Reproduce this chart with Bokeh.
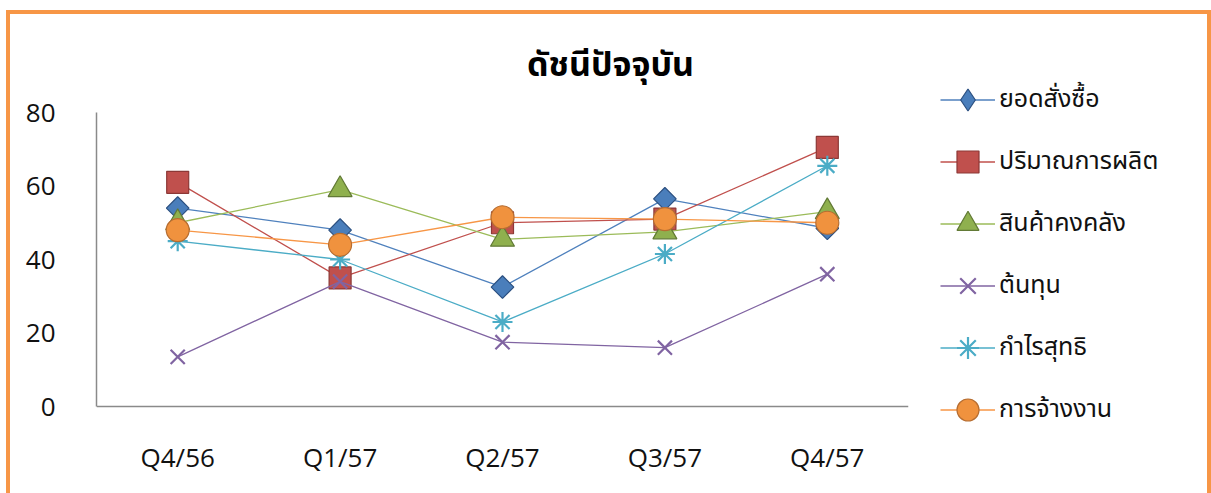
import math
from bokeh.plotting import figure
from bokeh.layouts import row
from bokeh.models import FactorRange, Range1d, Legend, LegendItem, Label, Span, ColumnDataSource
from bokeh.embed import file_html
from bokeh.resources import INLINE

categories = ["Q4/56", "Q1/57", "Q2/57", "Q3/57", "Q4/57"]
series_names = ["ยอดสั่งซื้อ", "ปริมาณการผลิต", "สินค้าคงคลัง", "ต้นทุน", "กำไรสุทธิ", "การจ้างงาน"]
orders = [54, 48, 32.5, 56.5, 48.5]
production = [61, 35, 50, 51, 70.5]
inventory = [50, 59, 45.5, 47.5, 53]
cost = [13.5, 34, 17.5, 16, 36]
profit = [45, 40, 23, 41.5, 65.5]
employment = [48, 44, 51.5, 51, 50]
y_ticks = [0, 20, 40, 60, 80]
title_text = "ดัชนีปัจจุบัน"

values = [orders, production, inventory, cost, profit, employment]
line_colors = ["#4F81BD", "#C0504D", "#9BBB59", "#8064A2", "#4BACC6", "#F79646"]
fill_colors = ["#4A7EBB", "#C0504D", "#8FB04E", "#8064A2", "#4BACC6", "#F0923E"]
edge_colors = ["#2C5080", "#8C3836", "#627A36", "#71589A", "#3A9DB8", "#B66D31"]
markers = ["square", "square", "triangle", "x", "asterisk", "circle"]
legend_markers = ["diamond", "square", "triangle", "x", "asterisk", "circle"]
angles = [math.pi / 4, 0, 0, 0, 0, 0]
sizes = [16, 22, 24, 20, 20, 23]

FONT = "Open Sans, Noto Sans Thai, Noto Sans, sans-serif"
W, H = 1211, 493
PW = 930                      # chart figure width; the remainder holds the legend
L, R, T, B = 96, 908, 20, 432  # frame edges in pixels
Y0, Y80 = 406, 112             # pixel rows of the values 0 and 80
ppu = (Y0 - Y80) / 80.0
y_start = -(B - Y0) / ppu
y_end = (Y0 - T) / ppu

ORANGE = "#F79646"
grad = f"linear-gradient({ORANGE},{ORANGE})"
bg_p = (f"{grad} 6px 10px / 4px 490px no-repeat, "
        f"{grad} 6px 10px / {PW}px 4px no-repeat, white")
bg_q = (f"{grad} 0px 10px / {W - PW}px 4px no-repeat, "
        f"{grad} {W - PW - 4}px 10px / 4px 490px no-repeat, white")

p = figure(width=PW, height=H, x_range=FactorRange(factors=categories, range_padding=0),
           y_range=Range1d(y_start, y_end), output_backend="svg", toolbar_location=None,
           min_border_left=L, min_border_right=PW - R, min_border_top=T, min_border_bottom=H - B,
           styles={"background": bg_p})
p.outline_line_color = None
p.xgrid.grid_line_color = None
p.ygrid.grid_line_color = None
p.background_fill_color = None
p.border_fill_color = None

for ax in (p.xaxis, p.yaxis):
    ax.axis_line_color = "#8A8A8A"
    ax.axis_line_width = 1.5
    ax.major_tick_line_color = None
    ax.minor_tick_line_color = None
    ax.major_label_text_font = FONT
    ax.major_label_text_font_size = "26px"
    ax.major_label_text_color = "#111111"
p.xaxis.axis_line_color = None
p.yaxis.ticker = y_ticks
p.yaxis.bounds = (0, 80)
p.yaxis.major_label_standoff = 35
p.xaxis.major_label_standoff = 26 - (B - Y0)

# category axis baseline at value 0
p.add_layout(Span(location=0, dimension="width", line_color="#8A8A8A", line_width=1.5))

q = figure(width=W - PW, height=H, x_range=(0, 1), y_range=(0, 1),
           x_axis_type=None, y_axis_type=None, output_backend="svg", toolbar_location=None,
           min_border_left=0, min_border_right=0, min_border_top=T, min_border_bottom=H - B,
           styles={"background": bg_q})
q.outline_line_color = None
q.xgrid.grid_line_color = None
q.ygrid.grid_line_color = None
q.background_fill_color = None
q.border_fill_color = None

items = []
for name, vals, lc, fc, ec, mk, lmk, ang, sz in zip(series_names, values, line_colors, fill_colors,
                                                    edge_colors, markers, legend_markers, angles, sizes):
    src = ColumnDataSource(dict(x=categories, y=vals))
    p.line("x", "y", source=src, line_color=lc, line_width=1.3)
    # legend swatches live in the side figure, outside its visible ranges
    sw = ColumnDataSource(dict(x=[-10], y=[-10]))
    lr = q.line("x", "y", source=sw, line_color=lc, line_width=1.3)
    if mk in ("x", "asterisk"):
        p.scatter("x", "y", source=src, marker=mk, size=sz, line_color=lc, line_width=2.2)
        sr = q.scatter("x", "y", source=sw, marker=lmk, size=sz, line_color=lc, line_width=2.2)
    else:
        p.scatter("x", "y", source=src, marker=mk, size=sz, angle=ang,
                  fill_color=fc, line_color=ec, line_width=1.2)
        sr = q.scatter("x", "y", source=sw, marker=lmk, size=sz,
                       fill_color=fc, line_color=ec, line_width=1.2)
    items.append(LegendItem(label=name, renderers=[lr, sr]))

legend = Legend(items=items, location=(10, B - 436.5), orientation="vertical",
                glyph_width=55, glyph_height=55, label_height=55, spacing=7,
                label_standoff=4, padding=0, margin=0,
                label_text_font=FONT, label_text_font_size="25px",
                label_text_color="#111111", border_line_color=None,
                background_fill_alpha=0)
q.add_layout(legend, "center")

p.add_layout(Label(x=3.165, y=(Y0 - 62) / ppu, text=title_text,
                   text_align="center", text_baseline="middle", text_font=FONT,
                   text_font_size="34px", text_font_style="bold", text_color="#000000"))

layout = row(p, q, spacing=0)
open("out.html", "w").write(file_html(layout, INLINE))
